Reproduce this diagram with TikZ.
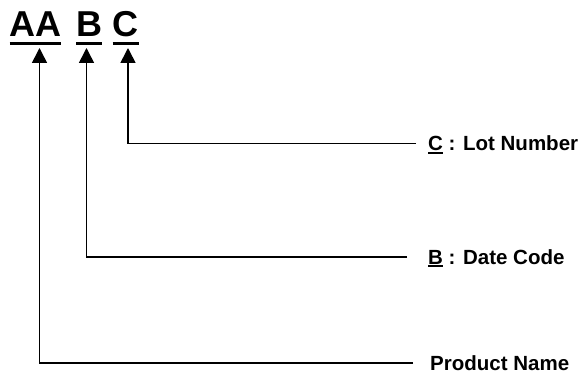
\documentclass[tikz,border=0pt]{standalone}
\usepackage{fontspec}
\setmainfont{Liberation Sans}
\usetikzlibrary{arrows.meta}
\newcommand\myul[3]{\setbox0\hbox{#1}\rlap{\rule[-#2]{\wd0}{#3}}\box0\relax}
\begin{document}
\begin{tikzpicture}[x=1pt,y=-1pt,
  head/.style={font=\fontsize{36}{36}\selectfont\bfseries, inner sep=0pt, anchor=base},
  lbl/.style={font=\fontsize{20.5}{24}\selectfont\bfseries, inner sep=0pt, anchor=base west},
  conn/.style={-{Triangle[length=15pt,width=15pt]}, line width=1.6pt}]
\useasboundingbox (0,0) rectangle (583,374);
% heading
\node[head] (hA) at (35.5,37) {\myul{AA}{8pt}{3pt}};
\node[head] (hB) at (89,37) {\myul{B}{8pt}{3pt}};
\node[head] (hC) at (125.5,37) {\myul{C}{8pt}{3pt}};
% arrow tips
\coordinate (tA) at (39.5,48);
\coordinate (tB) at (86.5,48);
\coordinate (tC) at (128,48);
% line ends
\coordinate (eC) at (416,143.5);
\coordinate (eB) at (407,257);
\coordinate (eA) at (413,363);
% labels
\node[lbl] (lC) at (428,150.5) {\myul{C}{3pt}{2pt} : Lot Number};
\node[lbl] (lB) at (428,264) {\myul{B}{3pt}{2pt} : Date Code};
\node[lbl] (lA) at (430,370) {Product Name};
% connectors
\draw[conn] (eC) -| (tC);
\draw[conn] (eB) -| (tB);
\draw[conn] (eA) -| (tA);
\end{tikzpicture}
\end{document}
